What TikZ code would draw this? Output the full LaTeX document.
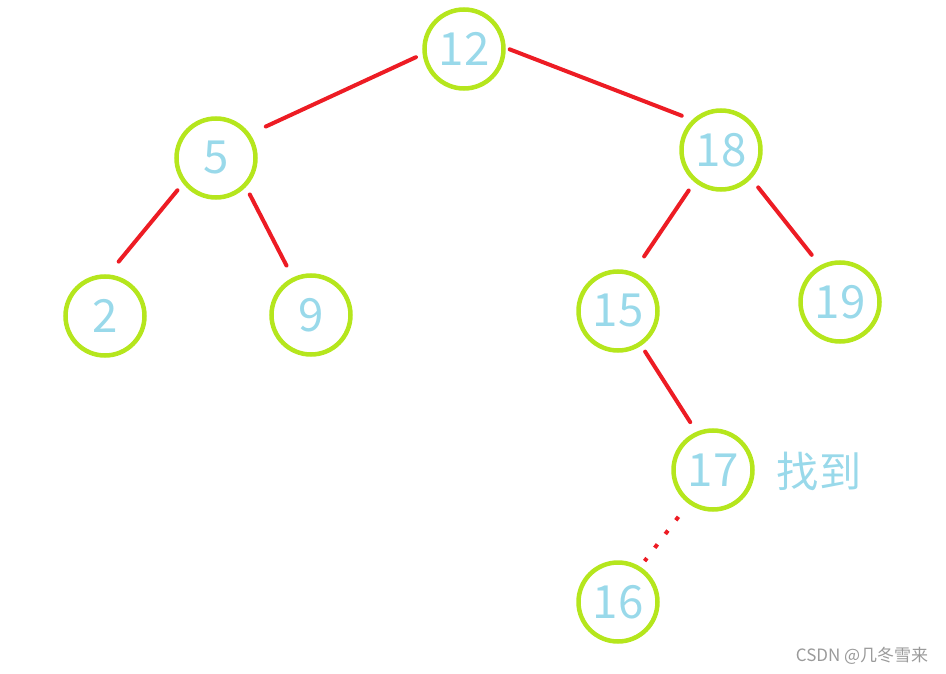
\documentclass[tikz,border=0pt]{standalone}
\usepackage{fontspec}
\setmainfont{Noto Sans CJK SC}
\usepackage{xcolor}
\definecolor{bstgreen}{HTML}{B5E61D}
\definecolor{bstblue}{HTML}{99D9EA}
\definecolor{bstred}{HTML}{ED1C24}
\definecolor{markgray}{HTML}{9A9A9A}

\begin{document}
\begin{tikzpicture}[
      x=0.03cm, y=-0.03cm,
      every node/.style={font=\fontsize{39}{44}\selectfont},
      key/.style={circle, draw=bstgreen, line width=0.135cm, minimum size=2.37cm,
                  inner sep=0pt, outer sep=0pt, text=bstblue},
      edge/.style={draw=bstred, line width=0.12cm, line cap=round},
    ]
    \useasboundingbox (0,0) rectangle (946,674);
    % Level 0 and 1
    \node[key] (n12) at (464,49)  {12};
    \node[key] (n5)  at (216,158) {5};
    \node[key] (n18) at (721,150) {18};
    % Level 2
    \node[key] (n2)  at (105,316) {2};
    \node[key] (n9)  at (311,315) {9};
    \node[key] (n15) at (618,311) {15};
    \node[key] (n19) at (840,302) {19};
    % Level 3 and 4
    \node[key] (n17) at (713,470) {17};
    \node[key] (n16) at (618,602) {16};
    \node[text=bstblue, font=\fontsize{36}{40}\selectfont] (found) at (819,471) {找到};
    \node[text=markgray, font=\fontsize{14.5}{16}\selectfont] (mark) at (862,656) {CSDN @几冬雪来};

    \draw[edge, shorten <=0.29cm, shorten >=0.59cm] (n12.186) -- (n5.36);
    \draw[edge, shorten <=0.20cm, shorten >=0.41cm] (n12.3) -- (n18.132);
    \draw[edge, shorten <=0.33cm, shorten >=0.58cm] (n5.217) -- (n2.88);
    \draw[edge, shorten <=0.32cm, shorten >=0.47cm] (n5.317) -- (n9.116);
    \draw[edge, shorten <=0.37cm, shorten >=0.64cm] (n18.230) -- (n15.69);
    \draw[edge, shorten <=0.40cm, shorten >=0.47cm] (n18.317) -- (n19.118);
    \draw[edge, shorten <=0.28cm, shorten >=0.41cm] (n15.304) -- (n17.113);
    \draw[edge, line cap=butt, dash pattern=on 0.13cm off 0.39cm,
          shorten <=0.56cm, shorten >=0.28cm] (n17.234) -- (n16.58);
  \end{tikzpicture}
\end{document}
